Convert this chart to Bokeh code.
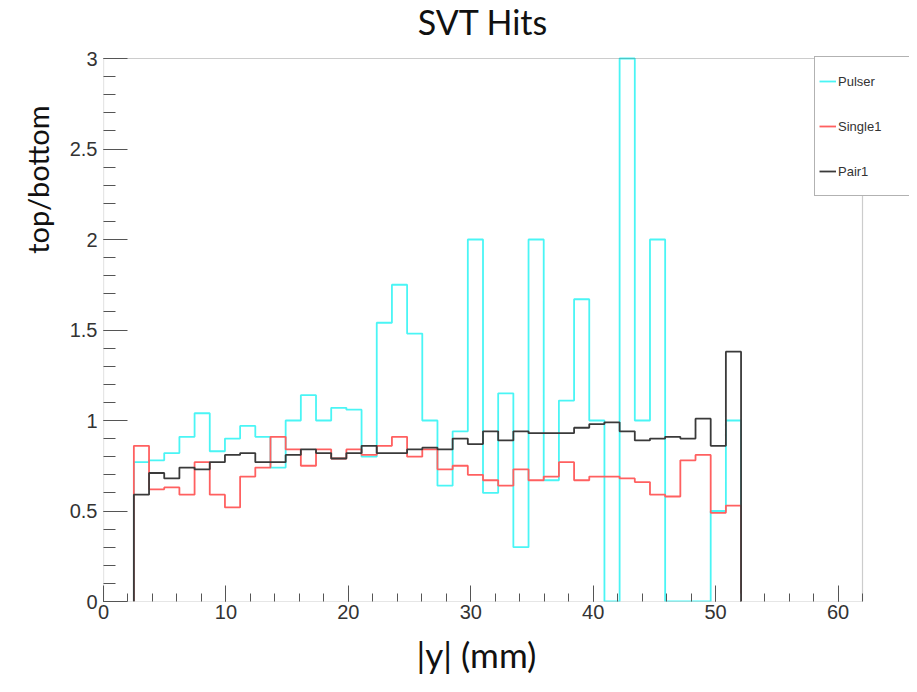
import numpy as np
from bokeh.plotting import figure
from bokeh.models import (Range1d, FixedTicker, PrintfTickFormatter,
                          Legend, LegendItem, Title, BoxAnnotation, Label)
from bokeh.embed import file_html
from bokeh.resources import INLINE

# histogram binning: 50 bins over 0..62, filled bins 2..41
x_min, x_max = 0, 62
y_min, y_max = 0, 3
all_edges = np.linspace(x_min, x_max, 51)
edges = all_edges[2:43]

pulser = [0.77, 0.78, 0.82, 0.91, 1.04, 0.83, 0.90, 0.97, 0.91, 0.74,
          1.00, 1.14, 1.00, 1.07, 1.06, 0.80, 1.54, 1.75, 1.48, 1.00,
          0.64, 0.94, 2.00, 0.60, 1.15, 0.30, 2.00, 0.67, 1.11, 1.67,
          1.00, 0.00, 3.00, 1.00, 2.00, 0.00, 0.00, 0.00, 0.50, 1.00]
single1 = [0.86, 0.62, 0.63, 0.59, 0.77, 0.59, 0.52, 0.69, 0.74, 0.91,
           0.84, 0.75, 0.84, 0.79, 0.84, 0.81, 0.86, 0.91, 0.80, 0.84,
           0.73, 0.75, 0.70, 0.67, 0.64, 0.73, 0.67, 0.69, 0.77, 0.67,
           0.69, 0.69, 0.68, 0.66, 0.59, 0.58, 0.78, 0.81, 0.49, 0.53]
pair1 = [0.59, 0.71, 0.68, 0.74, 0.73, 0.77, 0.81, 0.82, 0.77, 0.77,
         0.81, 0.84, 0.82, 0.79, 0.82, 0.86, 0.82, 0.82, 0.84, 0.85,
         0.84, 0.90, 0.87, 0.94, 0.89, 0.94, 0.93, 0.93, 0.93, 0.96,
         0.98, 0.99, 0.94, 0.89, 0.90, 0.91, 0.90, 1.01, 0.86, 1.38]

series_names = ["Pulser", "Single1", "Pair1"]
series_vals = [pulser, single1, pair1]
series_colors = ["#4af5f5", "#ff6060", "#3a3a3a"]

x_major_ticks = list(range(0, 61, 10))
x_minor_ticks = list(range(0, 63, 2))
y_major_ticks = [0, 0.5, 1, 1.5, 2, 2.5, 3]
y_minor_ticks = [round(0.1 * i, 1) for i in range(31)]


def step_outline(e, v):
    xs = np.repeat(e, 2)
    ys = np.concatenate([[0.0], np.repeat(np.asarray(v, dtype=float), 2), [0.0]])
    return xs, ys


W, H = 917, 692
# pixel geometry of the ROOT canvas
hist_left, hist_right, hist_top, hist_bottom = 103, 862, 58, 601
view_right = 909           # legend box overhangs the histogram frame
view_top = 0               # title sits inside the drawing area

view_x_end = x_max * (view_right - hist_left) / (hist_right - hist_left)
view_y_end = y_max * (hist_bottom - view_top) / (hist_bottom - hist_top)

p = figure(width=W, height=H,
           x_range=Range1d(x_min, view_x_end), y_range=Range1d(y_min, view_y_end),
           output_backend="svg", toolbar_location=None,
           min_border_left=hist_left, min_border_right=W - view_right,
           min_border_top=view_top, min_border_bottom=H - hist_bottom,
           background_fill_color="white", border_fill_color="white")
p.title.text = ""
p.xgrid.visible = False
p.ygrid.visible = False
p.outline_line_color = None

# histogram frame
frame_box = BoxAnnotation(left=x_min, right=x_max, bottom=y_min, top=y_max,
                          fill_alpha=0, line_color="#555555", line_width=1.2)
p.add_layout(frame_box)

# title (centered above the histogram frame)
title_px = 21
title_y = view_y_end * (hist_bottom - title_px) / (hist_bottom - view_top)
p.add_layout(Label(x=(x_min + x_max) / 2, y=title_y, text="SVT Hits",
                   text_align="center", text_baseline="alphabetic",
                   text_font="Lato", text_font_size="34px",
                   text_color="#111111"))

ax = p.xaxis[0]
ax.ticker = FixedTicker(ticks=x_major_ticks, minor_ticks=x_minor_ticks)
ax.major_tick_in = 16
ax.major_tick_out = 0
ax.minor_tick_in = 8
ax.minor_tick_out = 0
ax.major_tick_line_color = "#555555"
ax.minor_tick_line_color = "#555555"
ax.axis_line_color = None
ax.major_label_standoff = 3
ax.major_label_text_font = "Liberation Sans"
ax.major_label_text_font_size = "20px"
ax.major_label_text_color = "#333333"

xtitle = Title(text="|y| (mm)", align="left", vertical_align="top",
               text_font="Lato", text_font_size="35px", text_font_style="normal",
               text_color="#111111", offset=313, standoff=22)
p.add_layout(xtitle, "below")

ay = p.yaxis[0]
ay.ticker = FixedTicker(ticks=y_major_ticks, minor_ticks=y_minor_ticks)
ay.formatter = PrintfTickFormatter(format="%g")
ay.major_tick_in = 24
ay.major_tick_out = 0
ay.minor_tick_in = 12
ay.minor_tick_out = 0
ay.major_tick_line_color = "#555555"
ay.minor_tick_line_color = "#555555"
ay.axis_line_color = None
ay.major_label_standoff = 6
ay.major_label_text_font = "Liberation Sans"
ay.major_label_text_font_size = "20px"
ay.major_label_text_color = "#333333"

ytitle = Title(text="top/bottom", align="right", text_font="Lato",
               text_font_size="29px", text_font_style="normal",
               text_color="#111111", offset=105, standoff=23)
p.add_layout(ytitle, "left")

items = []
for name, vals, col in zip(series_names, series_vals, series_colors):
    xs, ys = step_outline(edges, vals)
    r = p.line(xs, ys, line_color=col, line_width=1.8)
    items.append(LegendItem(label=name, renderers=[r]))

legend = Legend(items=items, location=(711, 405),
                border_line_color="#666666", border_line_width=1,
                background_fill_color="white", background_fill_alpha=1.0,
                label_text_font="Liberation Sans", label_text_font_size="13px",
                label_text_color="#333333",
                glyph_width=17, glyph_height=40, label_height=40, label_width=67,
                spacing=5, padding=4, label_standoff=2, margin=0)
p.add_layout(legend)

open("out.html", "w").write(file_html(p, INLINE))
